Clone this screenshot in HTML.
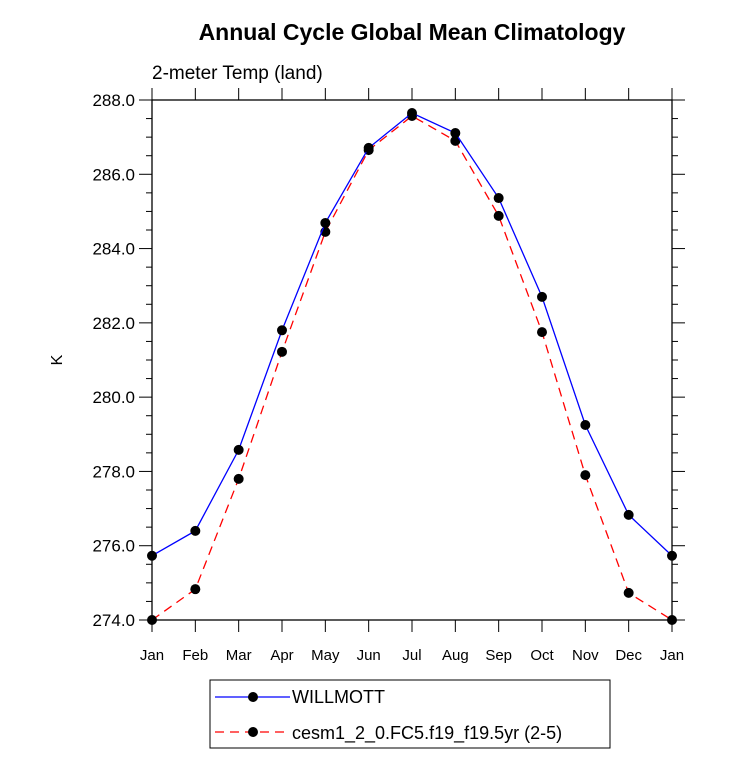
<!DOCTYPE html>
<html><head><meta charset="utf-8"><style>body{margin:0;background:#fff}svg{display:block}</style></head><body>
<svg id="chart" width="733" height="770" xmlns="http://www.w3.org/2000/svg" font-family="Liberation Sans, Arial, sans-serif">
<text x="412" y="40" text-anchor="middle" font-size="23" font-weight="bold">Annual Cycle Global Mean Climatology</text>
<text x="152" y="79" font-size="19">2-meter Temp (land)</text>
<text transform="translate(62,360) rotate(-90)" text-anchor="middle" font-size="16">K</text>
<g id="axes"></g><g id="series"></g>
<g>
<rect x="210" y="680" width="400" height="68" fill="none" stroke="#000" stroke-width="1"/>
<line x1="215" y1="697" x2="290" y2="697" stroke="#00f" stroke-width="1.3"/>
<circle cx="253" cy="697" r="5" fill="#000"/>
<text x="292" y="703" font-size="18">WILLMOTT</text>
<line x1="215" y1="732" x2="290" y2="732" stroke="#f00" stroke-width="1.3" stroke-dasharray="9,6"/>
<circle cx="253" cy="732" r="5" fill="#000"/>
<text x="292" y="739" font-size="18">cesm1_2_0.FC5.f19_f19.5yr (2-5)</text>
</g>
</svg>
<script>
const months=["Jan","Feb","Mar","Apr","May","Jun","Jul","Aug","Sep","Oct","Nov","Dec","Jan"];
const willmott=[275.73,276.4,278.58,281.8,284.69,286.71,287.65,287.11,285.36,282.70,279.25,276.83,275.73];
const cesm=[274.0,274.83,277.80,281.22,284.45,286.65,287.57,286.90,284.88,281.75,277.9,274.73,274.0];
const yTicks=[274,276,278,280,282,284,286,288];
const L=152,R=672,T=100,B=620,yMin=274,yMax=288;
const xs=i=>L+(R-L)*i/(months.length-1);
const ys=v=>B-(v-yMin)/(yMax-yMin)*(B-T);
const NS="http://www.w3.org/2000/svg";
function mk(t,a,p){const e=document.createElementNS(NS,t);for(const k in a)e.setAttribute(k,a[k]);p.appendChild(e);return e;}
const ax=document.getElementById('axes');
const fr=mk('rect',{x:L,y:T,width:R-L,height:B-T,fill:'none',stroke:'#000','stroke-width':1.3},ax);


for(let v=yMin;v<=yMax+1e-9;v+=0.5){
  const y=ys(v),major=Math.abs(v%2)<1e-9,len=major?13:6;
  mk('line',{x1:L-len,y1:y,x2:L,y2:y,stroke:'#000','stroke-width':1},ax);
  mk('line',{x1:R,y1:y,x2:R+len,y2:y,stroke:'#000','stroke-width':1},ax);
}
yTicks.forEach(v=>{
  const t=mk('text',{x:L-17,y:ys(v)+6,'text-anchor':'end','font-size':17},ax);
  t.textContent=v.toFixed(1);
  
  
});
months.forEach((m,i)=>{
  const x=xs(i);
  mk('line',{x1:x,y1:B,x2:x,y2:B+12,stroke:'#000','stroke-width':1},ax);
  mk('line',{x1:x,y1:T-12,x2:x,y2:T,stroke:'#000','stroke-width':1},ax);
  const t=mk('text',{x:x,y:B+40,'text-anchor':'middle','font-size':15},ax);
  t.textContent=m;
  
  
});
const sg=document.getElementById('series');
function draw(vals,color,dash,name){
  const p=mk('polyline',{points:vals.map((v,i)=>xs(i)+','+ys(v)).join(' '),fill:'none',stroke:color,'stroke-width':1.3,'stroke-dasharray':dash},sg);
  
  
  vals.forEach((v,i)=>{
    const c=mk('circle',{cx:xs(i),cy:ys(v),r:5,fill:'#000'},sg);
    
    
  });
}
draw(cesm,'#f00','9,6','cesm');
draw(willmott,'#00f','none','willmott');
</script>
</body></html>
